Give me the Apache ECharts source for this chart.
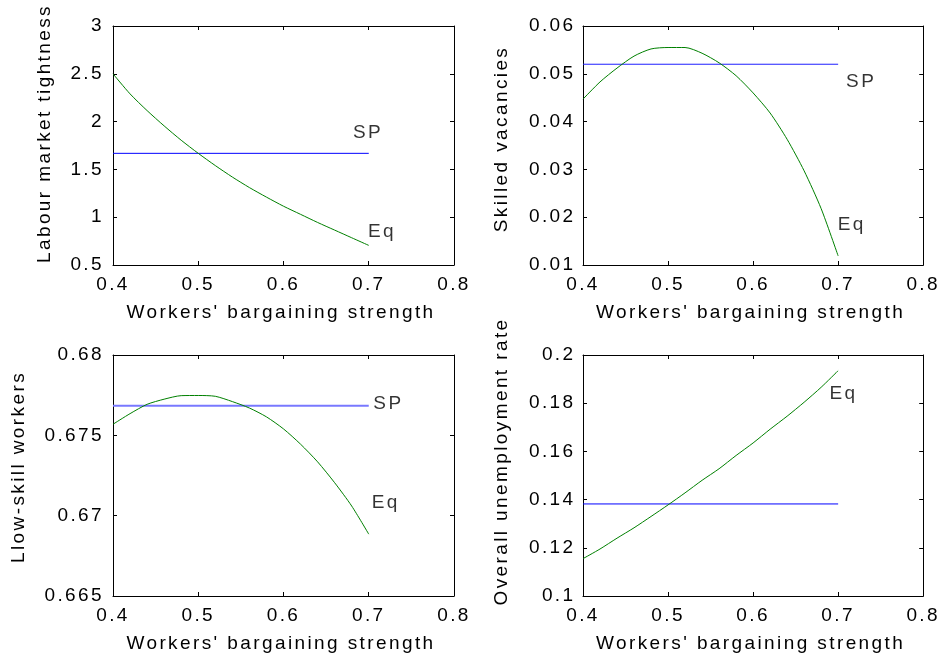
<!DOCTYPE html>
<html>
<head>
<meta charset="utf-8">
<script src="https://cdn.jsdelivr.net/npm/echarts@6/dist/echarts.min.js"></script>
<style>
html,body{margin:0;padding:0;background:#fff;}
#chart{width:943px;height:659px;}
</style>
</head>
<body>
<div id="chart"></div>
<script>
// ---- data ----
const xValues = [0.40,0.42,0.44,0.46,0.48,0.50,0.52,0.54,0.56,0.58,0.60,0.62,0.64,0.66,0.68,0.70];
const tightnessEq = [2.50,2.29,2.115,1.955,1.805,1.668,1.54,1.42,1.31,1.21,1.115,1.03,0.945,0.865,0.785,0.705];
const vacanciesEq = [0.0447,0.0483,0.0512,0.0537,0.0552,0.0555,0.0555,0.0543,0.0523,0.0496,0.0460,0.0418,0.0363,0.0297,0.0218,0.0119];
const lowSkillEq = [0.67569,0.67635,0.67693,0.67725,0.67747,0.67748,0.67743,0.67710,0.67670,0.67615,0.67540,0.67445,0.67335,0.67205,0.67060,0.66885];
const unempEq = [0.1155,0.1195,0.1240,0.1283,0.1330,0.1378,0.1428,0.1480,0.1528,0.1583,0.1635,0.1692,0.1746,0.1804,0.1866,0.1935];
const spRange = [0.40, 0.70];
const tightnessSP = 1.668;
const vacanciesSP = 0.052;
const lowSkillSP = 0.67684;
const unempSP = 0.1382;
const yTitles = ['Labour market tightness','Skilled vacancies','Llow-skill workers','Overall unemployment rate'];
const xTitle = "Workers' bargaining strength";
const xAxisTicks = {min:0.4, max:0.8, interval:0.1};
const yAxisTicks = [
  {min:0.5, max:3, interval:0.5},
  {min:0.01, max:0.06, interval:0.01},
  {min:0.665, max:0.68, interval:0.005},
  {min:0.1, max:0.2, interval:0.02}
];

// ---- text letter spacing (reference uses widely spaced Helvetica) ----
const LETTER_SPACING = '2.4px';
(function(){
  const P = CanvasRenderingContext2D.prototype;
  const d = Object.getOwnPropertyDescriptor(P,'font');
  if(!d || !d.set) return;
  Object.defineProperty(P,'font',{configurable:true,
    get(){return d.get.call(this);},
    set(v){d.set.call(this,v); try{ if('letterSpacing' in this) this.letterSpacing = LETTER_SPACING; }catch(e){} }
  });
})();

// ---- layout / style ----
const FONT = 'Liberation Sans';
const FS = 19;
const layout = [
  {grid:{left:113, top:26, width:341, height:239}, nameGap:58, namePad:24, labelMargin:9,
   eq:tightnessEq, sp:tightnessSP, spColor:'#0000ff', spWidth:1,
   labels:[{t:'SP', x:0.6815, y:1.88},{t:'Eq', x:0.6991, y:0.848}]},
  {grid:{left:583, top:26, width:342, height:239}, nameGap:71, namePad:13, labelMargin:7.5,
   eq:vacanciesEq, sp:vacanciesSP, spColor:'#1e1eff', spWidth:1,
   labels:[{t:'SP', x:0.7093, y:0.04824},{t:'Eq', x:0.6995, y:0.01847}]},
  {grid:{left:113, top:355, width:341, height:241}, nameGap:83.5, namePad:17, labelMargin:9,
   eq:lowSkillEq, sp:lowSkillSP, spColor:'#7878ff', spWidth:2,
   labels:[{t:'SP', x:0.7054, y:0.67699},{t:'Eq', x:0.7034, y:0.6708}]},
  {grid:{left:583, top:355, width:342, height:241}, nameGap:70.5, namePad:28, labelMargin:7.5,
   eq:unempEq, sp:unempSP, spColor:'#0000ff', spWidth:1,
   labels:[{t:'Eq', x:0.6897, y:0.18394}]}
];

const axisLine = {show:true, onZero:false, lineStyle:{color:'#000', width:1}};
const axisTick = {show:true, inside:true, length:4, lineStyle:{color:'#000', width:1}};
const textStyle = {fontFamily:FONT, fontSize:FS, color:'#000'};

const grids = [], xAxes = [], yAxes = [], series = [];
layout.forEach((p, i) => {
  grids.push(Object.assign({containLabel:false}, p.grid));
  xAxes.push({type:'value', gridIndex:i, position:'bottom', min:xAxisTicks.min, max:xAxisTicks.max, interval:xAxisTicks.interval,
    axisLine, axisTick, splitLine:{show:false},
    axisLabel:Object.assign({margin:9}, textStyle),
    name:xTitle, nameLocation:'middle', nameGap:37,
    nameTextStyle:Object.assign({padding:[0,5,0,0]}, textStyle)});
  xAxes.push({type:'value', gridIndex:i, position:'top', min:xAxisTicks.min, max:xAxisTicks.max, interval:xAxisTicks.interval,
    axisLine, axisTick, splitLine:{show:false}, axisLabel:{show:false}});
  const yt = yAxisTicks[i];
  yAxes.push({type:'value', gridIndex:i, position:'left', min:yt.min, max:yt.max, interval:yt.interval,
    axisLine, axisTick, splitLine:{show:false},
    axisLabel:Object.assign({margin:p.labelMargin}, textStyle),
    name:yTitles[i], nameLocation:'middle', nameGap:p.nameGap, nameRotate:90,
    nameTextStyle:Object.assign({padding:[0,0,0,p.namePad]}, textStyle)});
  yAxes.push({type:'value', gridIndex:i, position:'right', min:yt.min, max:yt.max, interval:yt.interval,
    axisLine, axisTick, splitLine:{show:false}, axisLabel:{show:false}});

  const xi = i*2, yi = i*2;
  series.push({type:'line', name:'Eq', xAxisIndex:xi, yAxisIndex:yi,
    data:xValues.map((x,k)=>[x, p.eq[k]]), showSymbol:false, symbol:'none',
    smooth:0.25,
    lineStyle:{color:'#008000', width:1}, itemStyle:{color:'#008000'}, silent:true, animation:false, z:3});
  series.push({type:'line', name:'SP', xAxisIndex:xi, yAxisIndex:yi,
    data:spRange.map(x=>[x, p.sp]), showSymbol:false, symbol:'none',
    lineStyle:{color:p.spColor, width:p.spWidth}, itemStyle:{color:p.spColor}, silent:true, animation:false, z:2});
  series.push({type:'scatter', xAxisIndex:xi, yAxisIndex:yi, symbolSize:0, silent:true, animation:false,
    data:p.labels.map(l=>({value:[l.x, l.y], name:l.t})),
    label:Object.assign({show:true, position:'right', distance:0, formatter:'{b}'}, textStyle)});
});

const chart = echarts.init(document.getElementById('chart'), null, {renderer:'canvas'});
chart.setOption({
  animation:false,
  backgroundColor:'#fff',
  textStyle:{fontFamily:FONT},
  grid:grids, xAxis:xAxes, yAxis:yAxes, series
});
</script>
</body>
</html>
